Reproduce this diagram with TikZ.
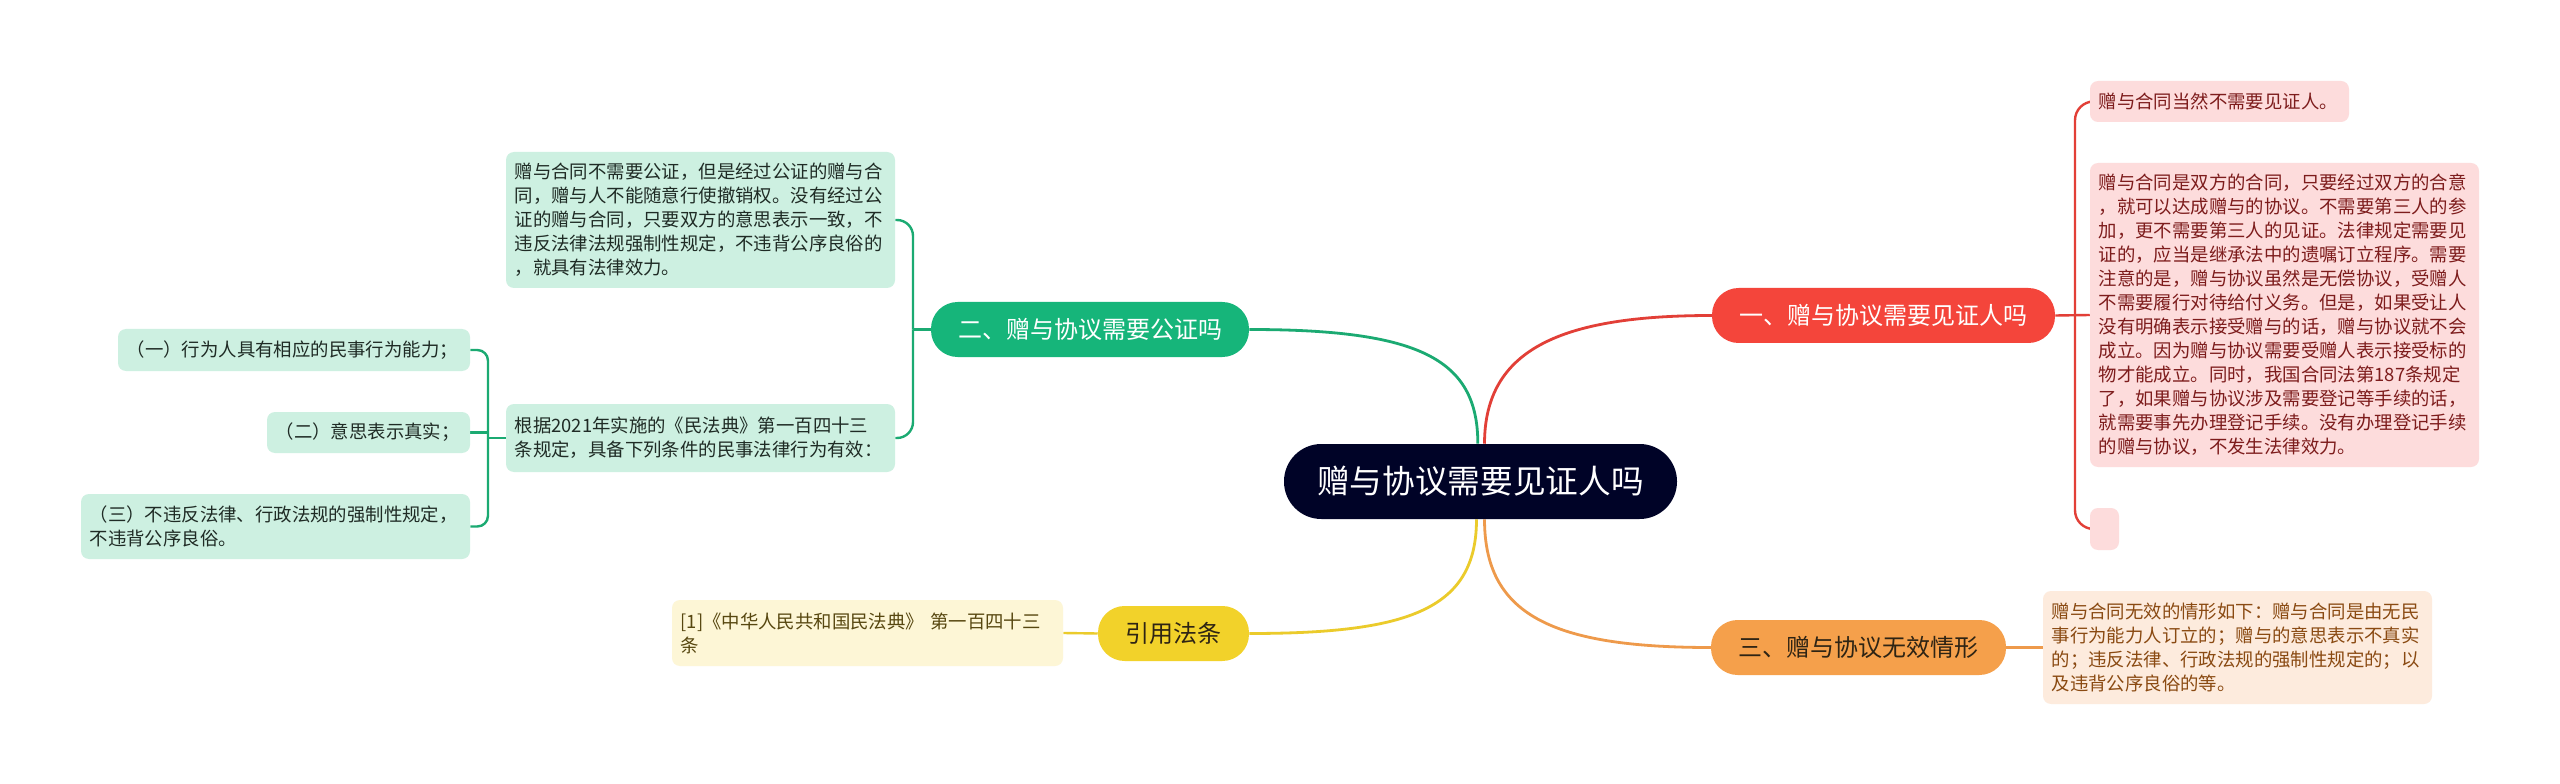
\documentclass[tikz,border=0pt]{standalone}
\usepackage{fontspec}
\setmainfont{Noto Sans CJK SC}
\pgfdeclarelayer{bg}
\pgfsetlayers{bg,main}
\definecolor{cnavy}{HTML}{000327}
\definecolor{cred}{HTML}{F4453B}
\definecolor{credline}{HTML}{E23F37}
\definecolor{credfill}{HTML}{FDDCDC}
\definecolor{credtext}{HTML}{7D1C1C}
\definecolor{cgreen}{HTML}{16B57A}
\definecolor{cgreenline}{HTML}{1BAA72}
\definecolor{cgreenfill}{HTML}{CDF0E1}
\definecolor{cgreentext}{HTML}{1F2B25}
\definecolor{corange}{HTML}{F5A04B}
\definecolor{corangeline}{HTML}{EE9A4B}
\definecolor{corangefill}{HTML}{FDEBDD}
\definecolor{corangetext}{HTML}{8A4A12}
\definecolor{cyellow}{HTML}{F2D22A}
\definecolor{cyellowline}{HTML}{EBCB2B}
\definecolor{cyellowfill}{HTML}{FDF6D6}
\definecolor{cyellowtext}{HTML}{574710}
\definecolor{cdarktext}{HTML}{2E2414}
\tikzset{
  pill/.style={rounded corners=20pt, inner sep=0pt, minimum height=41.25pt, align=center, font=\fontsize{18}{22}\selectfont},
  sub/.style={rounded corners=6pt, inner ysep=0pt, inner xsep=6.5pt, align=left, font=\fontsize{13.8}{18}\selectfont},
  redsub/.style={sub, fill=credfill, text=credtext},
  greensub/.style={sub, fill=cgreenfill, text=cgreentext},
  orangesub/.style={sub, fill=corangefill, text=corangetext},
  yellowsub/.style={sub, fill=cyellowfill, text=cyellowtext},
  mainline/.style={line width=2.1pt},
  subline/.style={line width=1.8pt},
}
\begin{document}
\begin{tikzpicture}[x=0.75pt,y=-0.75pt]
\useasboundingbox (0,0) rectangle (2560,784);

% center
\node[rounded corners=28pt, fill=cnavy, text=white, inner sep=0pt, minimum width=294.75pt, minimum height=56.25pt, font=\fontsize{24.5}{28}\selectfont] (nC) at (1480.5,481.5) {赠与协议需要见证人吗};

% level 1
\node[pill, fill=cred, text=white, minimum width=257.25pt] (nR) at (1883.5,315.5) {一、赠与协议需要见证人吗};
\node[pill, fill=cgreen, text=white, minimum width=238.5pt] (nG) at (1090,329.5) {二、赠与协议需要公证吗};
\node[pill, fill=corange, text=cdarktext, minimum width=221.25pt] (nO) at (1858.5,647.5) {三、赠与协议无效情形};
\node[pill, fill=cyellow, text=cdarktext, minimum width=113.25pt] (nY) at (1173.5,633.5) {引用法条};

% red children
\node[redsub, text width=181.25pt, minimum height=30.75pt] (r1) at (2219.5,101.5) {赠与合同当然不需要见证人。};
\node[redsub, text width=278.75pt, minimum height=228pt] (r2) at (2284.5,315) {赠与合同是双方的合同，只要经过双方的合意\\，就可以达成赠与的协议。不需要第三人的参\\加，更不需要第三人的见证。法律规定需要见\\证的，应当是继承法中的遗嘱订立程序。需要\\注意的是，赠与协议虽然是无偿协议，受赠人\\不需要履行对待给付义务。但是，如果受让人\\没有明确表示接受赠与的话，赠与协议就不会\\成立。因为赠与协议需要受赠人表示接受标的\\物才能成立。同时，我国合同法第187条规定\\了，如果赠与协议涉及需要登记等手续的话，\\就需要事先办理登记手续。没有办理登记手续\\的赠与协议，不发生法律效力。};
\node[redsub, inner xsep=0pt, text width=21.75pt, minimum height=31.5pt] (r3) at (2104.5,529) {};

% orange child
\node[orangesub, text width=278.75pt, minimum height=84.75pt] (o1) at (2237.5,647.5) {赠与合同无效的情形如下：赠与合同是由无民\\事行为能力人订立的；赠与的意思表示不真实\\的；违反法律、行政法规的强制性规定的；以\\及违背公序良俗的等。};

% yellow child
\node[yellowsub, text width=280.25pt, minimum height=49.5pt] (y1) at (867.5,633) {[1]《中华人民共和国民法典》 第一百四十三\\条};

% green children
\node[greensub, text width=278.75pt, minimum height=102pt] (g1) at (700.5,220) {赠与合同不需要公证，但是经过公证的赠与合\\同，赠与人不能随意行使撤销权。没有经过公\\证的赠与合同，只要双方的意思表示一致，不\\违反法律法规强制性规定，不违背公序良俗的\\，就具有法律效力。};
\node[greensub, text width=278.75pt, minimum height=51pt] (g2) at (700.5,438) {根据2021年实施的《民法典》第一百四十三\\条规定，具备下列条件的民事法律行为有效：};

% grandchildren
\node[greensub, text width=251pt, minimum height=31.5pt] (k1) at (294,350) {（一）行为人具有相应的民事行为能力；};
\node[greensub, text width=139.25pt, minimum height=30.75pt] (k2) at (368.5,432.5) {（二）意思表示真实；};
\node[greensub, text width=278.75pt, minimum height=48.75pt] (k3) at (275.5,526.5) {（三）不违反法律、行政法规的强制性规定，\\不违背公序良俗。};

\coordinate (rb) at (2075,315.5);
\coordinate (gb) at (913,329.5);
\coordinate (kb) at (488,438);

\begin{pgfonlayer}{bg}
\fill[white] (0,0) rectangle (2560,784);
\draw[mainline, credline] ([xshift=3pt]nC.north) .. controls +(0,-95) and +(-150,0) .. (nR.west);
\draw[mainline, cgreenline] ([xshift=-2pt]nC.north) .. controls +(0,-85) and +(170,0) .. (nG.east);
\draw[mainline, cyellowline] ([xshift=-3pt]nC.south) .. controls +(0,90) and +(160,0) .. (nY.east);
\draw[mainline, corangeline] ([xshift=3pt]nC.south) .. controls +(0,95) and +(-160,0) .. (nO.west);

\draw[subline, credline] (nR.east) -- (r2.west);
\draw[subline, credline, rounded corners=14pt] (rb) -- (rb |- r1.west) -- (r1.west);
\draw[subline, credline, rounded corners=14pt] (rb) -- (rb |- r3.west) -- (r3.west);

\draw[subline, cgreenline] (nG.west) -- (gb);
\draw[subline, cgreenline, rounded corners=12pt] (gb) -- (gb |- g1.east) -- (g1.east);
\draw[subline, cgreenline, rounded corners=12pt] (gb) -- (gb |- g2.east) -- (g2.east);

\draw[subline, cgreenline] (g2.west) -- (kb);
\draw[subline, cgreenline, rounded corners=8pt] (kb) -- (kb |- k1.east) -- (k1.east);
\draw[subline, cgreenline] (kb |- k2.east) -- (k2.east);
\draw[subline, cgreenline, rounded corners=8pt] (kb) -- (kb |- k3.east) -- (k3.east);

\draw[subline, corangeline] (nO.east) -- (o1.west);
\draw[subline, cyellowline] (nY.west) -- (y1.east);
\end{pgfonlayer}
\end{tikzpicture}
\end{document}
